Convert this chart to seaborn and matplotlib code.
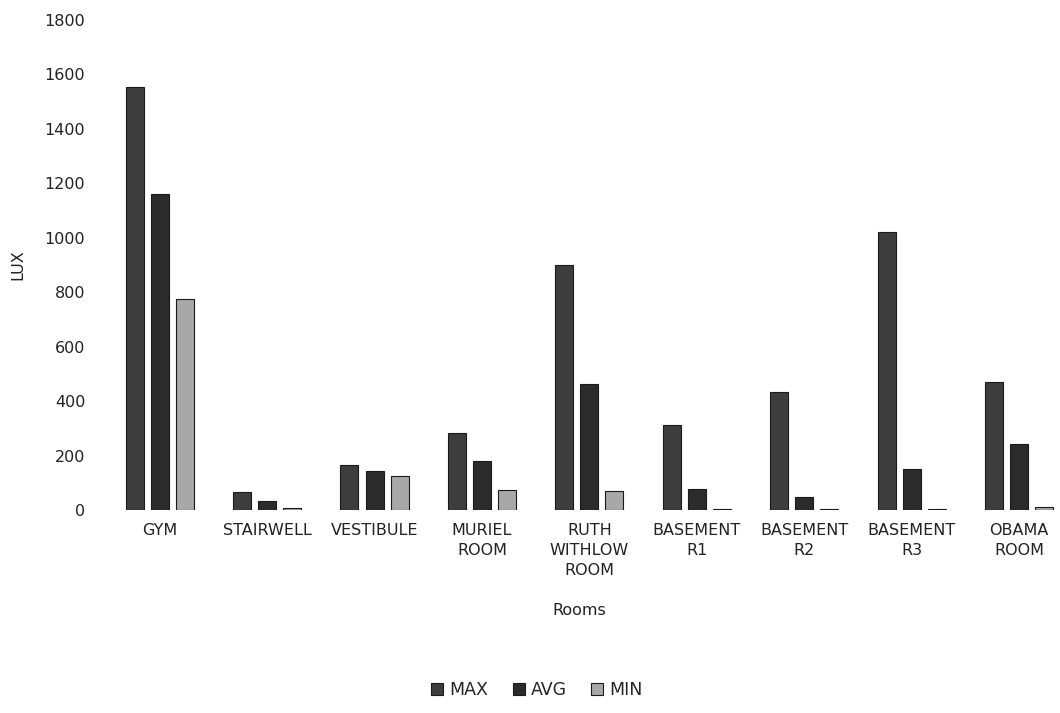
import matplotlib
matplotlib.use("Agg")
import matplotlib.pyplot as plt
import seaborn as sns
import pandas as pd

rooms = ["GYM", "STAIRWELL", "VESTIBULE", "MURIEL\nROOM", "RUTH\nWITHLOW\nROOM",
         "BASEMENT\nR1", "BASEMENT\nR2", "BASEMENT\nR3", "OBAMA\nROOM"]
lux_max = [1555, 66, 165, 284, 900, 312, 434, 1022, 470]
lux_avg = [1160, 33, 143, 180, 463, 77, 48, 150, 242]
lux_min = [775, 7, 125, 74, 70, 4, 3, 2, 12]
series = ["MAX", "AVG", "MIN"]
yticks = [0, 200, 400, 600, 800, 1000, 1200, 1400, 1600, 1800]

df = pd.DataFrame({
    "Rooms": rooms * 3,
    "LUX": lux_max + lux_avg + lux_min,
    "Stat": [s for s in series for _ in rooms],
})

sns.set_theme(style="white")
plt.rcParams["font.family"] = ["DejaVu Sans"]

fig = plt.figure(figsize=(10.6, 7.13), dpi=100)
ax = fig.add_axes([0.1, 0.2847, 0.912, 0.6873])

palette = {"MAX": "#3d3d3d", "AVG": "#2b2b2b", "MIN": "#a8a8a8"}
sns.barplot(data=df, x="Rooms", y="LUX", hue="Stat", hue_order=series,
            palette=palette, width=0.7, gap=0.28, ax=ax, legend=True,
            edgecolor="#1a1a1a", linewidth=0.8)

ax.set_ylim(0, 1800)
ax.set_yticks(yticks)
ax.set_yticklabels([str(t) for t in yticks], fontsize=11.5, color="#222222")
ax.tick_params(axis="x", labelsize=11.5, colors="#222222", length=0, pad=9)
ax.tick_params(axis="y", length=0, pad=15)
for lbl in ax.get_xticklabels():
    lbl.set_linespacing(1.45)
for s in ax.spines.values():
    s.set_visible(False)

ax.set_xlabel("Rooms", fontsize=11.5, color="#222222")
ax.set_ylabel("LUX", fontsize=11.5, color="#222222", labelpad=14)
ax.xaxis.set_label_coords(0.49, -0.19)

handles, labels = ax.get_legend_handles_labels()
ax.get_legend().remove()
fig.legend(handles, labels, loc="center", bbox_to_anchor=(537 / 1060, 23 / 713),
           ncol=3, frameon=False, fontsize=12.5, handlelength=0.7, handleheight=0.7,
           handletextpad=0.35, columnspacing=1.4)

fig.savefig("out.png", dpi=100)
